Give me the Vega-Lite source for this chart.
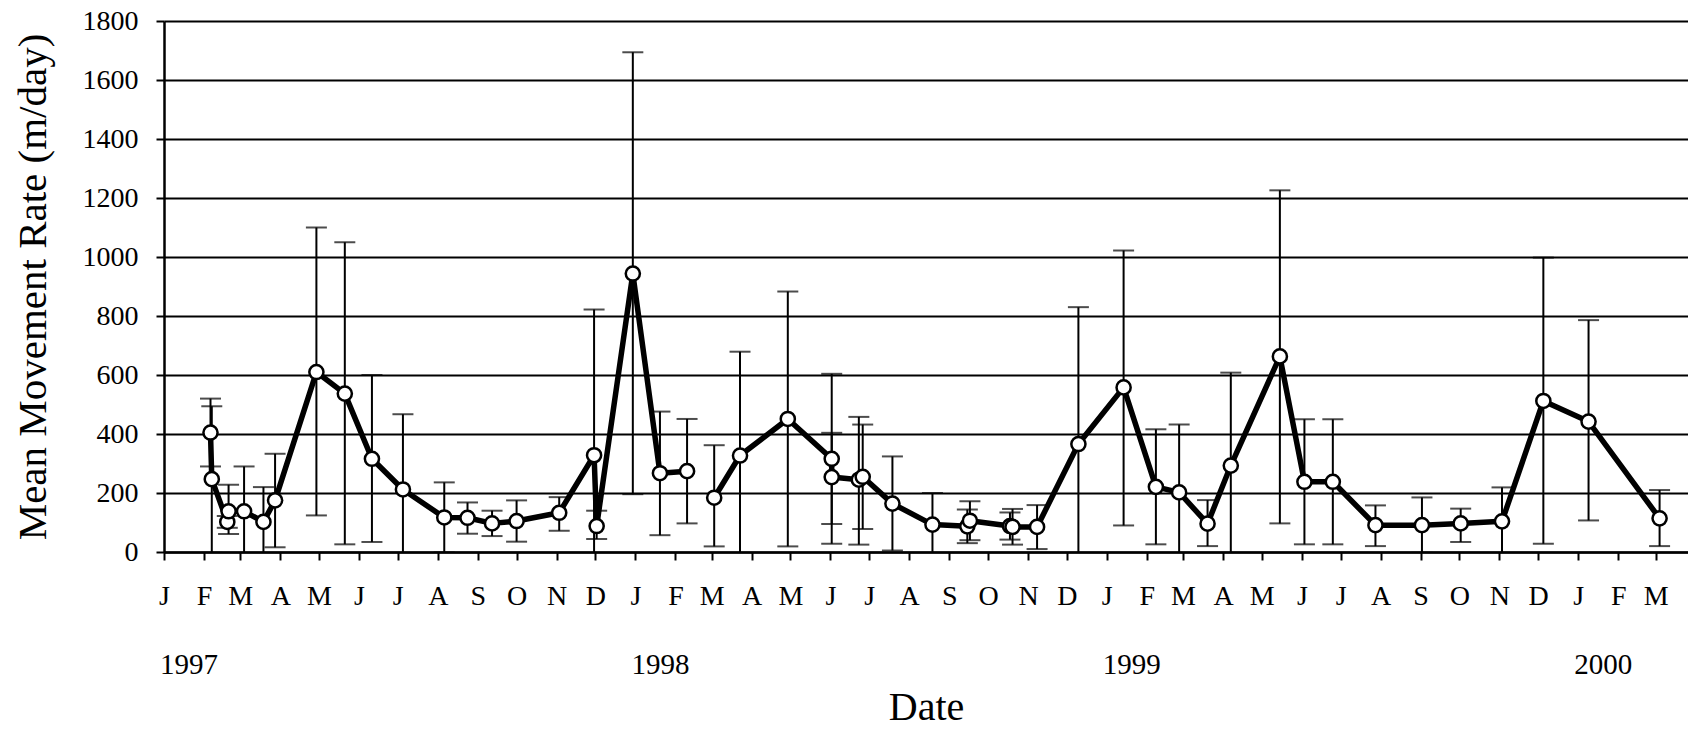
{
  "$schema": "https://vega.github.io/schema/vega-lite/v6.json",
  "width": 1524,
  "height": 531,
  "autosize": {"type": "none"},
  "padding": {"left": 164, "top": 21, "right": 0, "bottom": 177},
  "background": "white",
  "config": {
    "view": {"stroke": null},
    "font": "Liberation Serif",
    "axis": {
      "labelFont": "Liberation Serif",
      "titleFont": "Liberation Serif",
      "labelColor": "black",
      "titleColor": "black",
      "titleFontWeight": "normal",
      "domainColor": "black",
      "tickColor": "black"
    }
  },
  "data": {
    "values": [
      {"i": 1, "date": "1997-02-06", "v": 405, "lo": 290, "hi": 520, "seg": 1},
      {"i": 2, "date": "1997-02-07", "v": 247, "lo": -3, "hi": 494, "seg": 1},
      {"i": 3, "date": "1997-02-19", "v": 102, "lo": 82, "hi": 122, "seg": 1},
      {"i": 4, "date": "1997-02-20", "v": 138, "lo": 61, "hi": 228, "seg": 1},
      {"i": 5, "date": "1997-03-04", "v": 138, "lo": -14, "hi": 290, "seg": 1},
      {"i": 6, "date": "1997-03-19", "v": 102, "lo": -16, "hi": 220, "seg": 1},
      {"i": 7, "date": "1997-03-28", "v": 175, "lo": 16, "hi": 333, "seg": 1},
      {"i": 8, "date": "1997-04-29", "v": 610, "lo": 124, "hi": 1100, "seg": 1},
      {"i": 9, "date": "1997-05-21", "v": 537, "lo": 26, "hi": 1050, "seg": 1},
      {"i": 10, "date": "1997-06-11", "v": 316, "lo": 34, "hi": 600, "seg": 1},
      {"i": 11, "date": "1997-07-05", "v": 212, "lo": -43, "hi": 467, "seg": 1},
      {"i": 12, "date": "1997-08-06", "v": 117, "lo": -2, "hi": 236, "seg": 1},
      {"i": 13, "date": "1997-08-24", "v": 116, "lo": 62, "hi": 168, "seg": 1},
      {"i": 14, "date": "1997-09-12", "v": 97, "lo": 54, "hi": 140, "seg": 1},
      {"i": 15, "date": "1997-10-01", "v": 105, "lo": 35, "hi": 175, "seg": 1},
      {"i": 16, "date": "1997-11-03", "v": 133, "lo": 72, "hi": 186, "seg": 1},
      {"i": 17, "date": "1997-11-30", "v": 328, "lo": -166, "hi": 822, "seg": 1},
      {"i": 18, "date": "1997-12-02", "v": 88, "lo": 44, "hi": 140, "seg": 1},
      {"i": 19, "date": "1997-12-30", "v": 944, "lo": 196, "hi": 1694, "seg": 1},
      {"i": 20, "date": "1998-01-20", "v": 267, "lo": 57, "hi": 476, "seg": 1},
      {"i": 21, "date": "1998-02-10", "v": 274, "lo": 97, "hi": 451, "seg": 1},
      {"i": 22, "date": "1998-03-03", "v": 184, "lo": 19, "hi": 362, "seg": 2},
      {"i": 23, "date": "1998-03-23", "v": 327, "lo": -25, "hi": 679, "seg": 2},
      {"i": 24, "date": "1998-04-29", "v": 451, "lo": 19, "hi": 883, "seg": 2},
      {"i": 25, "date": "1998-06-02", "v": 316, "lo": 28, "hi": 604, "seg": 2},
      {"i": 26, "date": "1998-06-02", "v": 254, "lo": 95, "hi": 404, "seg": 2},
      {"i": 27, "date": "1998-06-23", "v": 245, "lo": 25, "hi": 458, "seg": 2},
      {"i": 28, "date": "1998-06-26", "v": 255, "lo": 78, "hi": 432, "seg": 2},
      {"i": 29, "date": "1998-07-19", "v": 164, "lo": 5, "hi": 324, "seg": 2},
      {"i": 30, "date": "1998-08-19", "v": 93, "lo": -14, "hi": 200, "seg": 2},
      {"i": 31, "date": "1998-09-15", "v": 87, "lo": 30, "hi": 144, "seg": 2},
      {"i": 32, "date": "1998-09-17", "v": 106, "lo": 40, "hi": 172, "seg": 2},
      {"i": 33, "date": "1998-10-18", "v": 88, "lo": 42, "hi": 134, "seg": 2},
      {"i": 34, "date": "1998-10-20", "v": 85, "lo": 25, "hi": 146, "seg": 2},
      {"i": 35, "date": "1998-11-08", "v": 85, "lo": 10, "hi": 159, "seg": 2},
      {"i": 36, "date": "1998-12-10", "v": 366, "lo": -98, "hi": 830, "seg": 2},
      {"i": 37, "date": "1999-01-14", "v": 558, "lo": 90, "hi": 1022, "seg": 2},
      {"i": 38, "date": "1999-02-08", "v": 221, "lo": 26, "hi": 416, "seg": 2},
      {"i": 39, "date": "1999-02-26", "v": 202, "lo": -28, "hi": 432, "seg": 2},
      {"i": 40, "date": "1999-03-20", "v": 96, "lo": 20, "hi": 176, "seg": 2},
      {"i": 41, "date": "1999-04-07", "v": 293, "lo": -22, "hi": 608, "seg": 2},
      {"i": 42, "date": "1999-05-15", "v": 663, "lo": 97, "hi": 1226, "seg": 2},
      {"i": 43, "date": "1999-06-03", "v": 238, "lo": 26, "hi": 450, "seg": 2},
      {"i": 44, "date": "1999-06-25", "v": 238, "lo": 26, "hi": 450, "seg": 2},
      {"i": 45, "date": "1999-07-28", "v": 91, "lo": 20, "hi": 158, "seg": 2},
      {"i": 46, "date": "1999-09-02", "v": 91, "lo": -3, "hi": 185, "seg": 2},
      {"i": 47, "date": "1999-10-02", "v": 97, "lo": 34, "hi": 147, "seg": 2},
      {"i": 48, "date": "1999-11-03", "v": 104, "lo": -11, "hi": 219, "seg": 2},
      {"i": 49, "date": "1999-12-05", "v": 512, "lo": 28, "hi": 998, "seg": 2},
      {"i": 50, "date": "2000-01-09", "v": 442, "lo": 107, "hi": 786, "seg": 2},
      {"i": 51, "date": "2000-03-04", "v": 114, "lo": 20, "hi": 210, "seg": 2}
    ]
  },
  "resolve": {"axis": {"x": "independent"}},
  "layer": [
    {
      "mark": {"type": "rule", "color": "black", "strokeWidth": 2, "clip": true},
      "encoding": {
        "x": {
          "field": "date", "type": "temporal",
          "scale": {"type": "utc", "nice": false,
            "domain": [{"year": 1997, "month": 1, "date": 1, "utc": true}, {"year": 2000, "month": 3, "date": 26, "utc": true}]},
          "axis": {
            "orient": "bottom", "title": null, "grid": false,
            "tickCount": {"interval": "month", "step": 1},
            "labelExpr": "substring(utcFormat(datum.value, '%b'), 0, 1)",
            "labelFontSize": 28, "labelPadding": 22, "labelOverlap": false, "labelFlush": false,
            "tickSize": 8, "tickWidth": 2, "domainWidth": 2.5
          }
        },
        "y": {
          "field": "lo", "type": "quantitative",
          "scale": {"domain": [0, 1800], "nice": false, "zero": true},
          "axis": {
            "title": "Mean Movement Rate (m/day)", "titleFontSize": 41, "titlePadding": 28,
            "values": [0, 200, 400, 600, 800, 1000, 1200, 1400, 1600, 1800], "format": "d",
            "labelFontSize": 28, "labelPadding": 18, "tickSize": 8, "tickWidth": 2, "domainWidth": 2.5,
            "grid": true, "gridColor": "black", "gridWidth": 2, "gridOpacity": 1
          }
        },
        "y2": {"field": "hi"}
      }
    },
    {
      "mark": {"type": "tick", "orient": "horizontal", "color": "black", "size": 21, "thickness": 2, "clip": true},
      "encoding": {
        "x": {"field": "date", "type": "temporal", "axis": null},
        "y": {"field": "hi", "type": "quantitative", "title": "Mean Movement Rate (m/day)"}
      }
    },
    {
      "mark": {"type": "tick", "orient": "horizontal", "color": "black", "size": 21, "thickness": 2, "clip": true},
      "encoding": {
        "x": {
          "field": "date", "type": "temporal",
          "axis": {
            "orient": "bottom", "title": "Date", "titleFontSize": 40, "titlePadding": 8,
            "grid": false, "domain": false, "ticks": false, "tickSize": 0,
            "values": [
              {"year": 1997, "month": 1, "date": 20, "utc": true},
              {"year": 1998, "month": 1, "date": 20, "utc": true},
              {"year": 1999, "month": 1, "date": 20, "utc": true},
              {"year": 2000, "month": 1, "date": 20, "utc": true}
            ],
            "format": "%Y", "labelFontSize": 29, "labelPadding": 98, "labelOverlap": false, "labelFlush": false
          }
        },
        "y": {"field": "lo", "type": "quantitative", "title": "Mean Movement Rate (m/day)"}
      }
    },
    {
      "mark": {"type": "line", "color": "black", "strokeWidth": 5.5, "strokeJoin": "round"},
      "encoding": {
        "x": {"field": "date", "type": "temporal", "axis": null},
        "y": {"field": "v", "type": "quantitative", "title": "Mean Movement Rate (m/day)"},
        "detail": {"field": "seg", "type": "nominal"},
        "order": {"field": "i", "type": "quantitative"}
      }
    },
    {
      "mark": {"type": "point", "filled": true, "fill": "white", "stroke": "black", "strokeWidth": 2.5, "size": 200, "opacity": 1},
      "encoding": {
        "x": {"field": "date", "type": "temporal", "axis": null},
        "y": {"field": "v", "type": "quantitative", "title": "Mean Movement Rate (m/day)"}
      }
    }
  ]
}
